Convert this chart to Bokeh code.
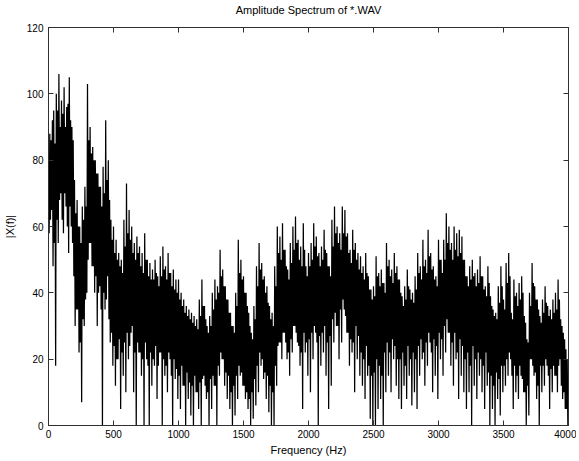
import numpy as np
from bokeh.plotting import figure
from bokeh.models import LinearAxis, Range1d, FixedTicker
from bokeh.embed import file_html
from bokeh.resources import INLINE

# Spectrum, per 20 Hz cell:
# peaks (spike tops), core_lo / core_hi (dense band), troughs (spike bottoms)
step_hz = 20
peaks = [
    78, 86, 95, 100, 106,   98, 102, 96, 105, 90,   74, 68, 60, 66, 72,   103, 90, 84, 80, 76,
    72, 78, 92, 80, 62,     60, 56, 52, 50, 62,     73, 65, 60, 55, 57,   54, 52, 58, 50, 49,
    47, 50, 45, 51, 54,     48, 52, 46, 47, 44,     44, 40, 38, 36, 35,   34, 33, 32, 38, 44,
    36, 30, 33, 40, 44,     42, 53, 47, 42, 38,     34, 30, 40, 56, 50,   45, 40, 34, 28, 36,
    48, 55, 49, 45, 42,     36, 34, 48, 60, 57,     61, 53, 47, 55, 60,   63, 56, 54, 61, 48,
    52, 55, 61, 57, 52,     54, 59, 52, 48, 62,     66, 60, 58, 66, 65,   58, 53, 59, 55, 52,
    51, 48, 52, 45, 41,     42, 51, 46, 47, 43,     55, 50, 47, 52, 48,   44, 39, 42, 47, 41,
    40, 45, 52, 48, 56,     50, 59, 52, 48, 45,     56, 50, 56, 64, 60,   55, 60, 58, 59, 57,
    50, 45, 48, 50, 46,     47, 51, 45, 42, 48,     39, 35, 34, 42, 48,   38, 49, 52, 34, 44,
    40, 43, 45, 33, 26,     40, 49, 42, 38, 33,     38, 42, 36, 35, 38,   40, 44, 32, 28, 23,
]
core_lo = [
    58, 65, 55, 62, 68,     62, 70, 60, 66, 55,     30, 35, 25, 32, 38,   50, 55, 48, 45, 40,
    35, 40, 38, 32, 28,     24, 20, 26, 22, 25,     28, 24, 30, 22, 25,   22, 20, 25, 18, 22,
    20, 24, 18, 22, 20,     18, 22, 15, 20, 17,     15, 18, 12, 16, 13,   12, 15, 10, 13, 14,
    12, 10, 14, 15, 12,     18, 22, 20, 16, 15,     10, 12, 15, 18, 16,   12, 10, 8, 10, 14,
    18, 22, 20, 16, 15,     12, 10, 18, 24, 25,     28, 25, 22, 26, 30,   28, 24, 22, 28, 25,
    26, 28, 30, 25, 27,     28, 30, 25, 27, 32,     34, 30, 35, 38, 33,   28, 26, 25, 30, 27,
    22, 20, 24, 18, 15,     16, 20, 18, 15, 22,     25, 22, 26, 24, 20,   20, 22, 18, 24, 20,
    22, 20, 24, 26, 22,     25, 28, 22, 26, 24,     28, 26, 30, 32, 28,   25, 28, 22, 26, 24,
    20, 22, 18, 24, 20,     22, 20, 18, 22, 16,     15, 12, 16, 14, 18,   18, 20, 22, 15, 18,
    15, 18, 14, 10, 12,     20, 18, 16, 12, 18,     18, 20, 15, 17, 18,   15, 18, 12, 10, 5,
]
core_hi = [
    88, 92, 85, 95, 90,     94, 90, 97, 92, 86,     64, 60, 55, 62, 66,   86, 82, 80, 76, 72,
    66, 70, 74, 68, 56,     52, 50, 48, 46, 54,     58, 56, 52, 50, 52,   48, 46, 50, 45, 44,
    44, 46, 42, 45, 47,     44, 46, 42, 41, 40,     38, 36, 34, 33, 32,   31, 30, 29, 33, 36,
    32, 28, 30, 35, 38,     40, 45, 42, 38, 34,     30, 28, 36, 46, 44,   40, 36, 30, 26, 32,
    42, 47, 44, 40, 37,     32, 30, 42, 52, 50,     53, 48, 44, 49, 53,   55, 50, 48, 53, 45,
    48, 50, 54, 51, 48,     50, 53, 48, 45, 54,     58, 55, 53, 58, 57,   52, 49, 53, 50, 47,
    46, 44, 46, 41, 38,     39, 45, 42, 43, 40,     48, 45, 43, 46, 44,   40, 36, 38, 42, 38,
    37, 41, 46, 44, 48,     46, 51, 47, 44, 42,     50, 46, 50, 55, 53,   50, 53, 51, 52, 50,
    45, 42, 44, 45, 42,     43, 45, 41, 39, 43,     36, 33, 32, 37, 42,   35, 43, 45, 32, 39,
    36, 38, 40, 31, 25,     36, 43, 38, 35, 31,     34, 37, 33, 32, 34,   35, 38, 30, 26, 20,
]
troughs = [
    62, 48, 18, 55, 70,     58, 66, 52, 60, 45,     35, 22, 7, 30, 40,    55, 48, 40, 30, 42,
    0, 35, 45, 25, 18,      12, 20, 5, 15, 10,      20, 28, 10, 0, 22,    15, 0, 20, 0, 12,
    18, 8, 22, 0, 15,       10, 20, 0, 14, 8,       5, 12, 0, 8, 3,       0, 10, 5, 0, 15,
    8, 0, 5, 12, 0,         15, 20, 12, 8, 5,       0, 3, 8, 15, 12,      8, 5, 0, 2, 6,
    10, 18, 14, 8, 4,       0, 0, 12, 25, 20,       28, 20, 15, 22, 30,   25, 18, 5, 22, 15,
    10, 20, 28, 0, 18,      22, 15, 5, 12, 25,      30, 20, 25, 35, 28,   18, 22, 10, 20, 15,
    12, 8, 15, 2, 0,        0, 5, 8, 0, 10,         15, 10, 20, 12, 8,    5, 12, 8, 15, 6,
    10, 5, 15, 20, 12,      18, 25, 10, 15, 8,      20, 15, 22, 28, 18,   12, 20, 8, 15, 10,
    5, 10, 0, 12, 8,        15, 10, 5, 12, 0,       5, 0, 8, 3, 10,       12, 15, 20, 5, 10,
    8, 15, 10, 0, 3,        20, 15, 8, 0, 10,       12, 18, 5, 10, 15,    10, 20, 8, 5, 0,
]
x_ticks = [0, 500, 1000, 1500, 2000, 2500, 3000, 3500, 4000]
y_ticks = [0, 20, 40, 60, 80, 100, 120]
title_text = "Amplitude Spectrum of *.WAV"

freq = []
amp = []
q = step_hz / 4
for i in range(len(peaks)):
    f0 = i * step_hz
    freq += [f0, f0 + q, f0 + 2 * q, f0 + 3 * q]
    amp += [peaks[i], core_lo[i], core_hi[i], troughs[i]]

FONT = "Liberation Sans"
AX = "#303030"

p = figure(width=576, height=458, x_range=Range1d(0, 4000), y_range=Range1d(0, 120),
           title=None, output_backend="svg", toolbar_location=None,
           min_border_left=47, min_border_right=8, min_border_top=25, min_border_bottom=28)
p.line(freq, amp, line_color="black", line_width=1.25)

p.xgrid.visible = False
p.ygrid.visible = False
p.outline_line_color = AX

def style(ax, ticks, labels=True):
    ax.ticker = FixedTicker(ticks=ticks)
    ax.major_tick_in = 5
    ax.major_tick_out = 0
    ax.minor_tick_line_color = None
    ax.axis_line_color = AX
    ax.major_tick_line_color = AX
    ax.major_label_text_font = FONT
    ax.major_label_text_font_size = "10px"
    ax.major_label_text_color = "black"
    ax.axis_label_text_font = FONT
    ax.axis_label_text_font_size = "11px"
    ax.axis_label_text_font_style = "normal"
    ax.axis_label_text_color = "black"
    if not labels:
        ax.major_label_overrides = {t: "" for t in ticks}
        ax.major_label_text_font_size = "0px"
        ax.major_label_standoff = 0

style(p.xaxis[0], x_ticks)
style(p.yaxis[0], y_ticks)
p.xaxis[0].major_label_standoff = 4
p.yaxis[0].major_label_standoff = 5
p.xaxis[0].axis_label = "Frequency (Hz)"
p.yaxis[0].axis_label = "|X(f)|"
p.xaxis[0].axis_label_standoff = 3
p.yaxis[0].axis_label_standoff = 8

# top axis carries the chart title as its label
top = LinearAxis()
style(top, x_ticks, labels=False)
top.axis_label = title_text
top.axis_label_standoff = 12
p.add_layout(top, "above")
right = LinearAxis()
style(right, y_ticks, labels=False)
p.add_layout(right, "right")

open("out.html", "w").write(file_html(p, INLINE))
